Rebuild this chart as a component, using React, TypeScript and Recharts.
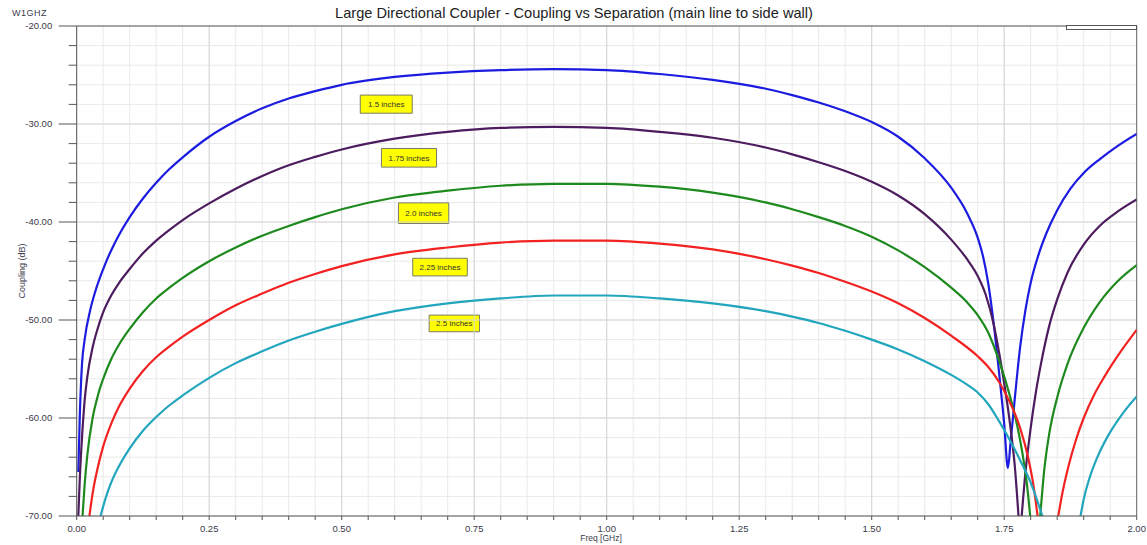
import React from "react";
import {
  CartesianGrid,
  Line,
  LineChart,
  ReferenceArea,
  ReferenceLine,
  XAxis,
  YAxis,
} from "recharts";

// frequency (GHz), coupling (dB); null = curve is below the -70 dB floor
const curve15: [number, number | null][] = [
  [0.003, -65.5], [0.006, -59.5], [0.01, -54.5], [0.015, -52.0], [0.025, -49.1],
  [0.035, -47.1], [0.05, -44.8], [0.065, -42.9], [0.08, -41.3], [0.1, -39.5],
  [0.125, -37.6], [0.15, -36.0], [0.175, -34.6], [0.2, -33.4], [0.25, -31.3],
  [0.3, -29.7], [0.35, -28.4], [0.4, -27.4], [0.45, -26.65], [0.5, -26.0],
  [0.6, -25.2], [0.7, -24.75], [0.8, -24.5], [0.9, -24.4], [1.0, -24.5],
  [1.1, -24.9], [1.2, -25.5], [1.3, -26.4], [1.35, -27.05], [1.4, -27.8],
  [1.45, -28.7], [1.5, -29.8], [1.55, -31.3], [1.6, -33.5], [1.65, -36.5],
  [1.68, -39.1], [1.7, -41.6], [1.71, -43.5], [1.72, -46.3], [1.73, -50.3],
  [1.74, -55.2], [1.75, -60.6], [1.757, -65.1], [1.762, -62.5], [1.77, -58.0],
  [1.78, -52.8], [1.79, -49.0], [1.8, -46.2], [1.815, -43.3], [1.83, -41.1],
  [1.85, -38.8], [1.875, -36.6], [1.9, -35.0], [1.93, -33.6], [1.965, -32.2],
  [2.0, -31.0],
];

const curve175: [number, number | null][] = [
  [0.003, -70], [0.006, -66.0], [0.01, -62.0], [0.015, -58.2], [0.02, -55.8],
  [0.03, -52.8], [0.04, -50.8], [0.05, -49.2], [0.065, -47.5], [0.08, -46.2],
  [0.1, -44.8], [0.125, -43.2], [0.15, -41.9], [0.175, -40.8], [0.2, -39.8],
  [0.25, -38.1], [0.3, -36.6], [0.35, -35.3], [0.4, -34.2], [0.45, -33.35],
  [0.5, -32.6], [0.6, -31.5], [0.7, -30.8], [0.8, -30.4], [0.9, -30.3],
  [1.0, -30.4], [1.1, -30.8], [1.2, -31.4], [1.3, -32.4], [1.35, -33.1],
  [1.4, -33.9], [1.45, -34.8], [1.5, -35.9], [1.55, -37.3], [1.6, -39.2],
  [1.65, -41.8], [1.68, -43.8], [1.7, -45.5], [1.715, -47.4], [1.73, -50.4],
  [1.745, -54.8], [1.76, -60.2], [1.77, -64.9], [1.777, -70], [1.78, null],
  [1.783, -70], [1.79, -65.6], [1.8, -61.0], [1.81, -57.3], [1.82, -54.3],
  [1.835, -50.6], [1.85, -47.9], [1.87, -45.1], [1.9, -42.3], [1.93, -40.4],
  [1.965, -38.9], [2.0, -37.7],
];

const curve20: [number, number | null][] = [
  [0.011, -70], [0.015, -66.8], [0.02, -63.8], [0.03, -60.0], [0.04, -57.7],
  [0.05, -56.0], [0.065, -54.0], [0.08, -52.5], [0.1, -50.9], [0.125, -49.2],
  [0.15, -47.8], [0.175, -46.7], [0.2, -45.7], [0.25, -44.0], [0.3, -42.6],
  [0.35, -41.4], [0.4, -40.4], [0.45, -39.5], [0.5, -38.7], [0.6, -37.5],
  [0.7, -36.8], [0.8, -36.3], [0.9, -36.1], [1.0, -36.1], [1.1, -36.4],
  [1.2, -37.0], [1.3, -38.0], [1.35, -38.7], [1.4, -39.5], [1.45, -40.4],
  [1.5, -41.5], [1.55, -42.9], [1.6, -44.6], [1.65, -46.7], [1.68, -48.2],
  [1.7, -49.5], [1.72, -51.3], [1.74, -54.1], [1.76, -57.6], [1.775, -60.9],
  [1.785, -63.8], [1.793, -66.8], [1.799, -70], [1.81, null],
  [1.818, -70], [1.825, -65.6], [1.835, -61.6], [1.85, -57.9], [1.87, -54.4],
  [1.9, -50.8], [1.93, -48.2], [1.965, -46.0], [2.0, -44.4],
];

const curve225: [number, number | null][] = [
  [0.024, -70], [0.03, -67.7], [0.04, -65.0], [0.05, -62.9], [0.065, -60.6],
  [0.08, -58.8], [0.1, -57.0], [0.125, -55.2], [0.15, -53.8], [0.175, -52.7],
  [0.2, -51.7], [0.25, -50.0], [0.3, -48.5], [0.35, -47.3], [0.4, -46.2],
  [0.45, -45.3], [0.5, -44.5], [0.6, -43.3], [0.7, -42.6], [0.8, -42.1],
  [0.9, -41.9], [1.0, -41.9], [1.1, -42.2], [1.2, -42.8], [1.3, -43.8],
  [1.35, -44.45], [1.4, -45.2], [1.45, -46.1], [1.5, -47.1], [1.55, -48.3],
  [1.6, -49.8], [1.65, -51.6], [1.7, -53.7], [1.72, -54.8], [1.74, -56.3],
  [1.76, -58.3], [1.78, -61.0], [1.795, -64.0], [1.805, -66.8], [1.813, -70],
  [1.83, null],
  [1.852, -70], [1.86, -67.6], [1.87, -65.2], [1.885, -62.3], [1.9, -60.0],
  [1.92, -57.6], [1.94, -55.7], [1.97, -53.2], [2.0, -51.0],
];

const curve25: [number, number | null][] = [
  [0.045, -70], [0.055, -68.1], [0.065, -66.6], [0.08, -64.9], [0.1, -63.1],
  [0.125, -61.3], [0.15, -59.9], [0.175, -58.7], [0.2, -57.7], [0.25, -55.9],
  [0.3, -54.4], [0.35, -53.2], [0.4, -52.1], [0.45, -51.2], [0.5, -50.4],
  [0.6, -49.1], [0.7, -48.3], [0.8, -47.8], [0.9, -47.5], [1.0, -47.5],
  [1.1, -47.8], [1.2, -48.3], [1.3, -49.1], [1.35, -49.65], [1.4, -50.3],
  [1.45, -51.1], [1.5, -52.0], [1.55, -53.0], [1.6, -54.2], [1.65, -55.6],
  [1.68, -56.6], [1.7, -57.4], [1.72, -58.6], [1.74, -60.3], [1.76, -62.2],
  [1.78, -64.3], [1.8, -66.6], [1.822, -70], [1.86, null],
  [1.894, -70], [1.9, -68.3], [1.91, -66.3], [1.925, -64.1], [1.945, -61.9],
  [1.97, -59.8], [2.0, -57.8],
];

const freqTicks = [
  0, 0.05, 0.1, 0.15, 0.2, 0.25, 0.3, 0.35, 0.4, 0.45, 0.5, 0.55, 0.6, 0.65,
  0.7, 0.75, 0.8, 0.85, 0.9, 0.95, 1.0, 1.05, 1.1, 1.15, 1.2, 1.25, 1.3, 1.35,
  1.4, 1.45, 1.5, 1.55, 1.6, 1.65, 1.7, 1.75, 1.8, 1.85, 1.9, 1.95, 2.0,
];
const freqLabels = [0, 0.25, 0.5, 0.75, 1.0, 1.25, 1.5, 1.75, 2.0];

const dbTicks = [
  -20, -22, -24, -26, -28, -30, -32, -34, -36, -38, -40, -42, -44, -46, -48,
  -50, -52, -54, -56, -58, -60, -62, -64, -66, -68, -70,
];
const dbLabels = [-20, -30, -40, -50, -60, -70];

// yellow tags: text, freq range, dB range
const tags: [string, number, number, number, number][] = [
  ["1.5 inches", 0.535, 0.633, -27.05, -28.9],
  ["1.75 inches", 0.575, 0.679, -32.5, -34.4],
  ["2.0 inches", 0.607, 0.702, -38.05, -40.15],
  ["2.25 inches", 0.634, 0.737, -43.7, -45.5],
  ["2.5 inches", 0.665, 0.76, -49.5, -51.2],
];

const series = [
  { name: "1.5 inches", pts: curve15, color: "#1c1ce0" },
  { name: "1.75 inches", pts: curve175, color: "#4c1c5e" },
  { name: "2.0 inches", pts: curve20, color: "#1e8a1e" },
  { name: "2.25 inches", pts: curve225, color: "#f22222" },
  { name: "2.5 inches", pts: curve25, color: "#22a6bd" },
];

const font = "'Liberation Sans', Arial, sans-serif";

const YTick = (props: any) => {
  const { x, y, payload } = props;
  const major = dbLabels.includes(payload.value);
  return (
    <g>
      <line x1={x - (major ? 18 : 8)} x2={x} y1={y} y2={y} stroke="#555" />
      {major && (
        <text x={x - 24.5} y={y} dy={3.3} textAnchor="end" fontSize={9.5} fill="#3a3a4a" fontFamily={font}>
          {payload.value.toFixed(2)}
        </text>
      )}
    </g>
  );
};

const XTick = (props: any) => {
  const { x, y, payload } = props;
  const major = freqLabels.includes(payload.value);
  return (
    <g>
      <line x1={x} x2={x} y1={y} y2={y + 4} stroke="#555" />
      {major && (
        <text x={x} y={y + 15.5} textAnchor="middle" fontSize={9.5} fill="#3a3a4a" fontFamily={font}>
          {payload.value.toFixed(2)}
        </text>
      )}
    </g>
  );
};

export default function App() {
  return (
    <div style={{ position: "absolute", left: 0, top: 0, width: 1147, height: 545, background: "#fff", fontFamily: font }}>
      <LineChart width={1147} height={545} margin={{ top: 26, right: 10.3, bottom: 0, left: 0 }}>
        <CartesianGrid stroke="#e9e9e9" />
        <XAxis
          dataKey="f"
          type="number"
          domain={[0, 2]}
          ticks={freqTicks}
          allowDataOverflow
          height={29}
          tickSize={0}
          tickMargin={0}
          tickLine={false}
          tick={<XTick />}
          axisLine={{ stroke: "#555" }}
          interval={0}
        />
        <YAxis
          type="number"
          domain={[-70, -20]}
          ticks={dbTicks}
          allowDataOverflow
          width={76.7}
          tickSize={0}
          tickMargin={0}
          tickLine={false}
          tick={<YTick />}
          axisLine={{ stroke: "#555" }}
          interval={0}
        />
        {freqLabels.slice(1, -1).map((f) => (
          <ReferenceLine key={"vf" + f} x={f} stroke="#d6d6d6" />
        ))}
        {dbLabels.slice(1, -1).map((d) => (
          <ReferenceLine key={"hd" + d} y={d} stroke="#d6d6d6" />
        ))}
        <ReferenceLine y={-20} stroke="#555" />
        <ReferenceLine x={2} stroke="#666" />
        {series.map((s) => (
          <Line
            key={s.name}
            name={s.name}
            data={s.pts.map(([f, v]) => ({ f, v }))}
            dataKey="v"
            type="monotone"
            stroke={s.color}
            strokeWidth={2.2}
            dot={false}
            isAnimationActive={false}
          />
        ))}
        {tags.map(([text, x1, x2, y1, y2]) => (
          <ReferenceArea
            key={text}
            x1={x1}
            x2={x2}
            y1={y1}
            y2={y2}
            fill="#ffff00"
            fillOpacity={1}
            stroke="#7a7a6a"
            strokeWidth={1}
            label={{ value: text, position: "center", fontSize: 8, fill: "#333", fontFamily: font }}
          />
        ))}
      </LineChart>
      <div style={{ position: "absolute", left: 574, top: 13, fontSize: 14.6, color: "#222", whiteSpace: "nowrap", transform: "translate(-50%, -50%)" }}>
        Large Directional Coupler - Coupling vs Separation (main line to side wall)
      </div>
      <div style={{ position: "absolute", left: 12, top: 8, fontSize: 9, color: "#3a3a4a", letterSpacing: 0.5 }}>W1GHZ</div>
      <div
        style={{
          position: "absolute",
          left: 22,
          top: 271,
          fontSize: 9,
          color: "#3a3a4a",
          whiteSpace: "nowrap",
          transform: "translate(-50%, -50%) rotate(-90deg)",
        }}
      >
        Coupling (dB)
      </div>
      <div style={{ position: "absolute", left: 601, top: 538, fontSize: 8.5, color: "#3a3a4a", transform: "translate(-50%, -50%)", whiteSpace: "nowrap" }}>
        Freq [GHz]
      </div>
      <div style={{ position: "absolute", left: 1066, top: 25, width: 69, height: 3, border: "1px solid #555", background: "#fff" }} />
    </div>
  );
}
